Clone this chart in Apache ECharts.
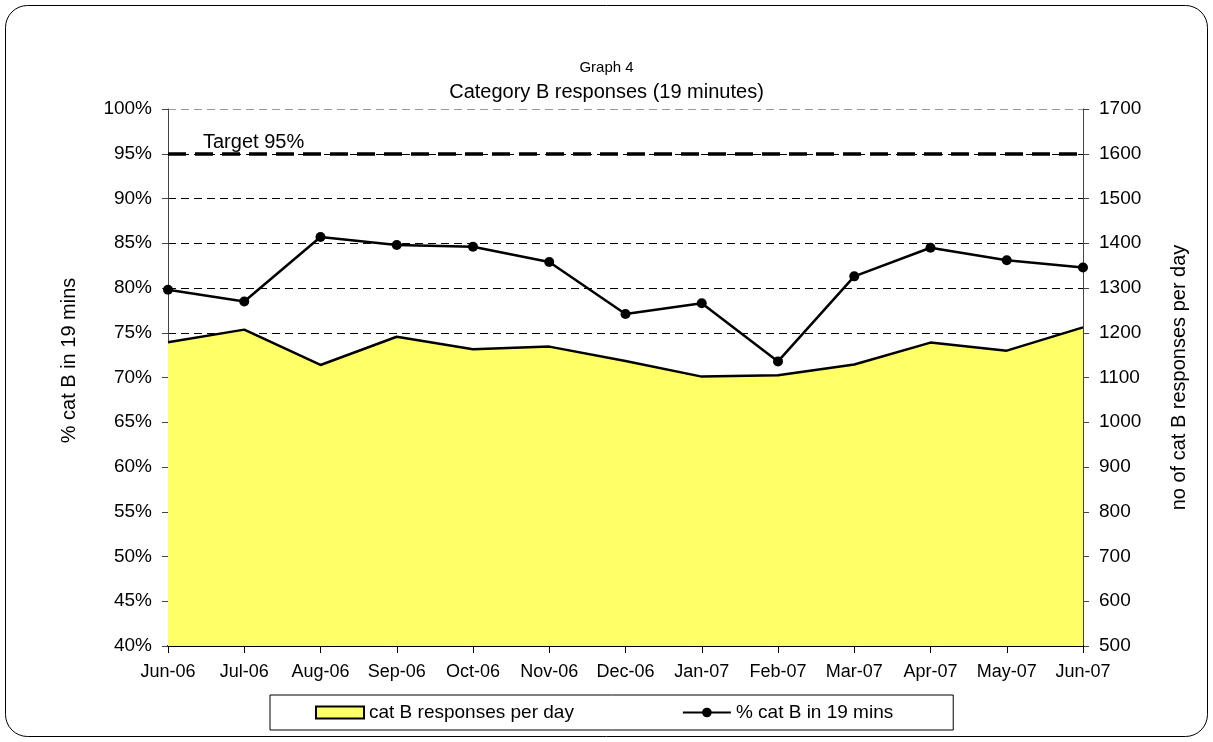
<!DOCTYPE html>
<html>
<head>
<meta charset="utf-8">
<script src="https://cdn.jsdelivr.net/npm/echarts@6/dist/echarts.min.js"></script>
<style>
html,body{margin:0;padding:0;background:#fff;}
#chart{width:1213px;height:742px;}
</style>
</head>
<body>
<div id="chart"></div>
<script>
var categories = ['Jun-06','Jul-06','Aug-06','Sep-06','Oct-06','Nov-06','Dec-06','Jan-07','Feb-07','Mar-07','Apr-07','May-07','Jun-07'];
var responsesPerDay = [1179, 1207, 1128, 1191, 1163, 1169, 1137, 1102, 1105, 1129, 1178, 1160, 1212];
var pctIn19 = [79.8, 78.5, 85.7, 84.8, 84.6, 82.9, 77.1, 78.3, 71.8, 81.3, 84.5, 83.1, 82.3];
var targetPct = 95;
var targetLabel = 'Target 95%';
var areaName = 'cat B responses per day';
var lineName = '% cat B in 19 mins';

var FONT = "'Liberation Sans', Arial, sans-serif";
var chart = echarts.init(document.getElementById('chart'), null, {renderer:'canvas'});

var gridColors = [];
for (var i = 0; i < 12; i++) gridColors.push('#000');
gridColors.push('#999');

chart.setOption({
  backgroundColor: '#fff',
  animation: false,
  textStyle: {fontFamily: FONT},
  graphic: [{
    type: 'rect',
    shape: {x: 5.5, y: 5.5, width: 1202, height: 731, r: 22},
    style: {fill: 'none', stroke: '#000', lineWidth: 1},
    silent: true,
    z: -1
  }],
  title: [{
    text: 'Graph 4',
    left: 'center', top: 55,
    textStyle: {fontFamily: FONT, fontSize: 15, fontWeight: 'normal', color: '#000'}
  }, {
    text: 'Category B responses (19 minutes)',
    left: 'center', top: 77,
    textStyle: {fontFamily: FONT, fontSize: 20, fontWeight: 'normal', color: '#000'}
  }],
  legend: {
    left: 270,
    top: 695,
    padding: [8, 60, 8, 45],
    borderColor: '#000',
    borderWidth: 1,
    itemGap: 108,
    itemWidth: 48,
    itemHeight: 12,
    textStyle: {fontFamily: FONT, fontSize: 19, color: '#000'},
    data: [
      {name: areaName, icon: 'rect', itemStyle: {color: '#FFFF66', borderColor: '#000', borderWidth: 2}},
      {name: lineName}
    ]
  },
  grid: {left: 168, right: 130, top: 109, bottom: 96, containLabel: false},
  xAxis: {
    type: 'category',
    data: categories,
    boundaryGap: false,
    axisLine: {lineStyle: {color: '#000', width: 2}},
    axisTick: {show: true, inside: false, length: 7, lineStyle: {color: '#000'}},
    axisLabel: {fontFamily: FONT, fontSize: 18, color: '#000', margin: 17, interval: 0}
  },
  yAxis: [{
    type: 'value',
    min: 40, max: 100, interval: 5,
    name: '% cat B in 19 mins',
    nameLocation: 'middle',
    nameGap: 89,
    nameRotate: 90,
    nameTextStyle: {fontFamily: FONT, fontSize: 20, color: '#000', padding: [0, 0, 0, 34]},
    axisLine: {show: true, lineStyle: {color: '#444', width: 1}},
    axisTick: {show: true, length: 6, lineStyle: {color: '#444'}},
    axisLabel: {formatter: '{value}%', fontFamily: FONT, fontSize: 19, color: '#000', margin: 16},
    splitLine: {show: true, lineStyle: {color: gridColors, type: [8, 5], width: 1}}
  }, {
    type: 'value',
    min: 500, max: 1700, interval: 100,
    name: 'no of cat B responses per day',
    nameLocation: 'middle',
    nameGap: 86,
    nameRotate: 90,
    nameTextStyle: {fontFamily: FONT, fontSize: 20, color: '#000'},
    axisLine: {show: true, lineStyle: {color: '#444', width: 1}},
    axisTick: {show: true, length: 6, lineStyle: {color: '#444'}},
    axisLabel: {formatter: function (v) { return String(v); }, fontFamily: FONT, fontSize: 19, color: '#000', margin: 16},
    splitLine: {show: false}
  }],
  series: [{
    name: areaName,
    type: 'line',
    yAxisIndex: 1,
    data: responsesPerDay,
    symbol: 'none',
    lineStyle: {color: '#000', width: 2.5},
    itemStyle: {color: '#FFFF66', borderColor: '#000'},
    areaStyle: {color: '#FFFF66', opacity: 1, origin: 'start'},
    z: 1
  }, {
    name: lineName,
    type: 'line',
    yAxisIndex: 0,
    data: pctIn19,
    symbol: 'circle',
    symbolSize: 10,
    lineStyle: {color: '#000', width: 2.5},
    itemStyle: {color: '#000'},
    z: 3,
    markLine: {
      silent: true,
      symbol: 'none',
      lineStyle: {color: '#000', type: [18, 9], width: 3.5},
      label: {
        show: true,
        position: 'insideStartTop',
        formatter: targetLabel,
        fontFamily: FONT, fontSize: 20, color: '#000',
        distance: [35, 1]
      },
      data: [{yAxis: targetPct}]
    }
  }]
});
</script>
</body>
</html>
